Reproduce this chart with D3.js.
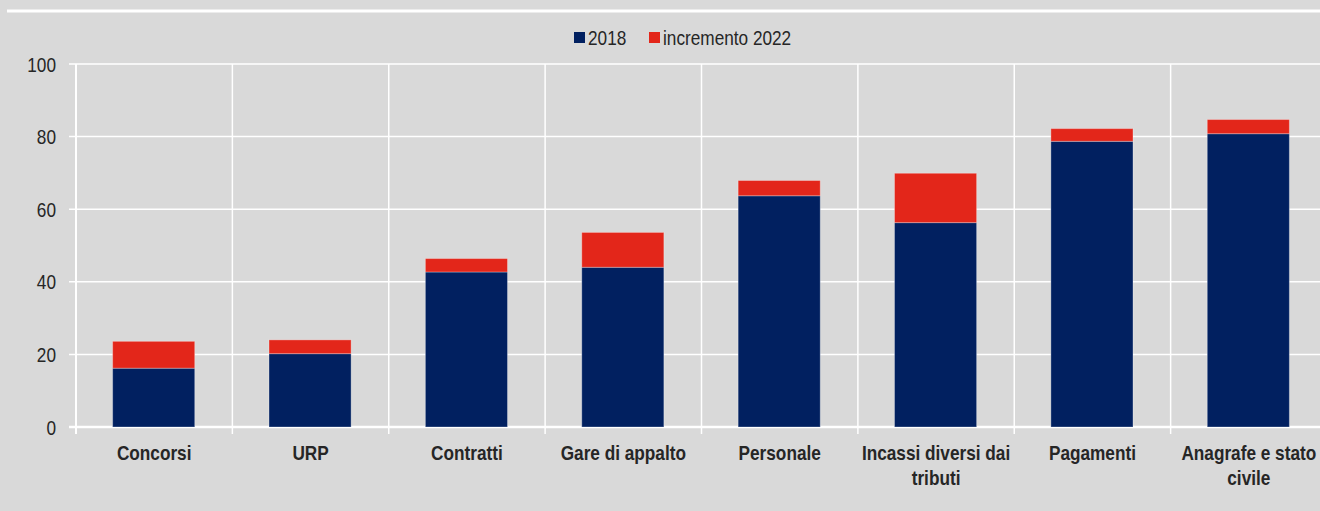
<!DOCTYPE html>
<html>
<head>
<meta charset="utf-8">
<script src="https://cdn.jsdelivr.net/npm/d3@7"></script>
<style>
  html, body { margin: 0; padding: 0; background: #d9d9d9; }
  svg { display: block; }
  text { font-family: "Liberation Sans Narrow", "Arial Narrow", "Liberation Sans", sans-serif; fill: #262626; }
</style>
</head>
<body>
<div id="plot"></div>
<script>
// Data
const categories = ["Concorsi", "URP", "Contratti", "Gare di appalto", "Personale",
    "Incassi diversi dai tributi", "Pagamenti", "Anagrafe e stato civile"];
const values2018 = [16.2, 20.2, 42.7, 44.0, 63.7, 56.3, 78.7, 80.8];
const total2022 = [23.6, 24.0, 46.4, 53.6, 67.9, 69.9, 82.2, 84.7];
const yTicks = [0, 20, 40, 60, 80, 100];
const seriesNames = ["2018", "incremento 2022"];
const colors = ["#012060", "#e3261a"];

const width = 1320, height = 511;
const margin = { left: 76, right: -7, top: 64, bottom: 84 };
const squeeze = 0.82; // no narrow font installed, so compress horizontally

const svg = d3.select("#plot")
    .append("svg")
    .attr("width", width)
    .attr("height", height);

// text placed through a transform so it can be squeezed
function narrowText(parent, px, py, anchor) {
    return parent.append("text")
        .attr("transform", `translate(${px},${py}) scale(${squeeze},1)`)
        .attr("text-anchor", anchor)
        .style("font-size", "21px");
}

// top white rule
svg.append("line")
    .attr("x1", 7).attr("x2", width)
    .attr("y1", 11).attr("y2", 11)
    .attr("stroke", "#fff")
    .attr("stroke-width", 3);

const x = d3.scaleBand()
    .domain(categories)
    .range([margin.left, width - margin.right])
    .paddingInner(0.475)
    .paddingOuter(0.2375);

const y = d3.scaleLinear()
    .domain([0, 100])
    .range([height - margin.bottom, margin.top]);

const step = x.step();
const x0 = margin.left, x1 = width - margin.right;

// horizontal gridlines
svg.append("g")
    .selectAll("line")
    .data(yTicks)
    .join("line")
    .attr("x1", x0 - 7).attr("x2", x1)
    .attr("y1", d => y(d)).attr("y2", d => y(d))
    .attr("stroke", "#fff")
    .attr("stroke-width", d => d === 0 ? 2.5 : 1.5);

// vertical gridlines at category boundaries
svg.append("g")
    .selectAll("line")
    .data(d3.range(categories.length + 1))
    .join("line")
    .attr("x1", i => x0 + i * step).attr("x2", i => x0 + i * step)
    .attr("y1", y(100)).attr("y2", y(0) + 7)
    .attr("stroke", "#fff")
    .attr("stroke-width", i => i === 0 ? 2 : 1.5);

// y tick labels
const yl = svg.append("g");
yTicks.forEach(d => {
    narrowText(yl, 56, y(d) + 7.5, "end").text(d);
});

// stacked bars
const rows = categories.map((c, i) => ({ cat: c, base: values2018[i], total: total2022[i] }));

const bars = svg.append("g");
bars.selectAll("rect.base")
    .data(rows)
    .join("rect")
    .attr("class", "base")
    .attr("x", d => x(d.cat) - 0.5)
    .attr("width", x.bandwidth())
    .attr("y", d => y(d.base))
    .attr("height", d => y(0) - y(d.base))
    .attr("fill", colors[0])
    .attr("stroke", "rgba(255,255,255,0.3)")
    .attr("stroke-width", 1);

bars.selectAll("rect.inc")
    .data(rows)
    .join("rect")
    .attr("class", "inc")
    .attr("x", d => x(d.cat) - 0.5)
    .attr("width", x.bandwidth())
    .attr("y", d => y(d.total))
    .attr("height", d => y(d.base) - y(d.total))
    .attr("fill", colors[1])
    .attr("stroke", "rgba(255,255,255,0.3)")
    .attr("stroke-width", 1);

// x labels (wrapped like the original)
const labelLines = {
    "Incassi diversi dai tributi": ["Incassi diversi dai", "tributi"],
    "Anagrafe e stato civile": ["Anagrafe e stato", "civile"]
};
const xl = svg.append("g");
categories.forEach(c => {
    const lines = labelLines[c] || [c];
    lines.forEach((l, k) => {
        narrowText(xl, x(c) + x.bandwidth() / 2, 460 + k * 25, "middle")
            .style("font-weight", "bold")
            .text(l);
    });
});

// legend
const legend = svg.append("g");
const legendPos = [574, 649];
seriesNames.forEach((s, i) => {
    legend.append("rect")
        .attr("x", legendPos[i]).attr("y", 32)
        .attr("width", 11).attr("height", 11)
        .attr("fill", colors[i]);
    narrowText(legend, legendPos[i] + 14, 45, "start").text(s);
});
</script>
</body>
</html>
